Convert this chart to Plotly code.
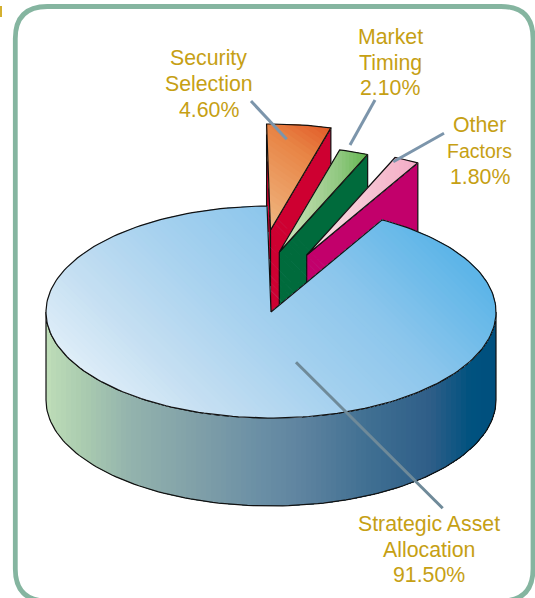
import math
import plotly.graph_objects as go

# ---- data ----
categories = ["Security Selection", "Market Timing", "Other Factors", "Strategic Asset Allocation"]
values = [4.60, 2.10, 1.80, 91.50]
value_labels = ["4.60%", "2.10%", "1.80%", "91.50%"]

# ---- geometry (pixels) ----
W, H = 535, 598
CX, CY, RX, RY = 271, 312, 225, 106
DEPTH = 88
START = -1.0
EXPLODE = [(-0.5, -82), (8.3, -60), (35.7, -57)]
FACE_H = [100, 75, 70]
OUTLINE = "#111111"

TOP_GRAD = [
    ([(-38, "#EFB680"), (60, "#E88445"), (100, "#E25E2A")], (0.7, -1.0)),
    ([(280, "#D2E5BF"), (340, "#8FC77F"), (368, "#62B64D")], (1.0, 0.0)),
    ([(307, "#F9E0E4"), (393, "#F5B8CC"), (419, "#F4AAC6")], (1.0, 0.0)),
]
FACE_COL = ["#CE0031", "#006B3C", "#C2006B"]
BLUE_GRAD = [(-320, "#E6F2FA"), (-200, "#C5DFF2"), (-80, "#A8D2EF"), (60, "#8CC6EC"), (200, "#5DB5E8"), (240, "#5DB5E8")]
SIDE_GRAD = [(46, "#BEDDB8"), (80, "#ACCDB0"), (130, "#93B3AD"), (200, "#7F9FA8"), (260, "#6A8FA5"),
             (300, "#5F84A0"), (370, "#3F6F92"), (430, "#2F5E88"), (470, "#00527F"), (496, "#004F7E")]


def rgb(h):
    return tuple(int(h[i:i + 2], 16) for i in (1, 3, 5))


def grad_color(stops, t):
    if t <= stops[0][0]:
        return stops[0][1]
    for (a, ca), (b, cb) in zip(stops, stops[1:]):
        if t <= b:
            f = (t - a) / (b - a)
            c = [round(p + (q - p) * f) for p, q in zip(rgb(ca), rgb(cb))]
            return "rgb(%d,%d,%d)" % tuple(c)
    return stops[-1][1]


def clip(poly, d, t0):
    """Keep the part of poly where d.p >= t0."""
    out = []
    n = len(poly)
    for i in range(n):
        p, q = poly[i], poly[(i + 1) % n]
        tp = d[0] * p[0] + d[1] * p[1] - t0
        tq = d[0] * q[0] + d[1] * q[1] - t0
        if tp >= 0:
            out.append(p)
        if (tp >= 0) != (tq >= 0):
            f = tp / (tp - tq)
            out.append((p[0] + (q[0] - p[0]) * f, p[1] + (q[1] - p[1]) * f))
    return out


def rim(theta, dx=0, dy=0):
    a = math.radians(theta)
    return (CX + dx + RX * math.sin(a), CY + dy - RY * math.cos(a))


def arc(a, b, dx=0, dy=0, n=None):
    n = n or max(4, int(abs(b - a) / 1.5))
    return [rim(a + (b - a) * i / n, dx, dy) for i in range(n + 1)]


fig = go.Figure()


def add_poly(poly, fill=None, line=None, width=1.2):
    xs = [p[0] for p in poly] + [poly[0][0]]
    ys = [p[1] for p in poly] + [poly[0][1]]
    fig.add_trace(go.Scatter(
        x=xs, y=ys, mode="lines", hoverinfo="skip", showlegend=False,
        fill="toself" if fill else None, fillcolor=fill,
        line=dict(color=line or "rgba(0,0,0,0)", width=width if line else 0),
    ))


def add_gradient(poly, stops, d, strips):
    ts = [d[0] * p[0] + d[1] * p[1] for p in poly]
    lo, hi = min(ts), max(ts)
    add_poly(poly, fill=grad_color(stops, lo))
    for i in range(1, strips):
        t = lo + (hi - lo) * i / strips
        part = clip(poly, d, t)
        if len(part) >= 3:
            add_poly(part, fill=grad_color(stops, t + (hi - lo) / strips / 2))
    add_poly(poly, line=OUTLINE)


# ---- slice angles come from the values ----
angles = [START]
for v in values:
    angles.append(angles[-1] + v * 3.6)

# ---- lifted small wedges ----
for i in range(3):
    dx, dy = EXPLODE[i]
    a0, a1 = angles[i], angles[i + 1]
    apex = (CX + dx, CY + dy)
    h = FACE_H[i]
    if i == 0:
        r0 = rim(a0, dx, dy)
        add_poly([r0, apex, (apex[0] + 1, apex[1] + h), (r0[0], r0[1] + h)], fill=FACE_COL[i], line=OUTLINE)
    r1 = rim(a1, dx, dy)
    add_poly([apex, r1, (r1[0], r1[1] + h), (apex[0], apex[1] + h)], fill=FACE_COL[i], line=OUTLINE)
    stops, d = TOP_GRAD[i]
    add_gradient([apex] + arc(a0, a1, dx, dy), stops, d, 24)

# ---- main slice: wall, then top ----
wall = arc(90, 270, n=120) + arc(270, 90, 0, DEPTH, n=120)
add_gradient(wall, SIDE_GRAD, (1.0, 0.0), 90)
top = [(CX, CY)] + arc(angles[3], angles[4], n=220)
add_gradient(top, BLUE_GRAD, (1.0, -1.0), 70)

# ---- leader lines ----
leaders = [((251, 101), (286.7, 139.3), "#7C95AB"),
           ((375, 100), (350, 145), "#7C95AB"),
           ((444, 133.3), (393.3, 161.7), "#7C95AB"),
           ((296, 362.3), (442.7, 508.3), "#6F8A99")]
for a, b, c in leaders:
    fig.add_trace(go.Scatter(x=[a[0], b[0]], y=[a[1], b[1]], mode="lines", hoverinfo="skip",
                             showlegend=False, line=dict(color=c, width=3)))

# ---- labels, one annotation per text line ----
def label(x, lines, ys, sizes=None):
    for j, (t, y) in enumerate(zip(lines, ys)):
        fig.add_annotation(x=x, y=y, text=t, showarrow=False, xanchor="center", yanchor="middle",
                           font=dict(family="Liberation Sans, Arial, sans-serif", color="#C6A014",
                                     size=sizes[j] if sizes else 21.3))


label(208.5, ["Security", "Selection", value_labels[0]], [58, 84, 110])
label(390, ["Market", "Timing", value_labels[1]], [37, 62.5, 88])
label(479.5, ["Other", "Factors", value_labels[2]], [125, 151, 177], sizes=[21.3, 19.5, 21.3])
label(428.7, ["Strategic Asset", "Allocation", value_labels[3]], [524, 549.5, 575])

# ---- frame ----
L, T, R, B, r = 15.3, 6.5, 533, 601, 32
frame = (f"M {L + r} {T} L {R - r} {T} Q {R} {T} {R} {T + r} L {R} {B - r} Q {R} {B} {R - r} {B} "
         f"L {L + r} {B} Q {L} {B} {L} {B - r} L {L} {T + r} Q {L} {T} {L + r} {T} Z")
shapes = [
    dict(type="path", path=frame, xref="x", yref="y", line=dict(color="#85B5A0", width=4.8), layer="below"),
    dict(type="rect", x0=0, x1=2, y0=6, y1=17, xref="x", yref="y", fillcolor="#D4B030", line=dict(width=0), layer="below"),
]

fig.update_layout(
    width=W, height=H, margin=dict(l=0, r=0, t=0, b=0, pad=0), autosize=False,
    paper_bgcolor="white", plot_bgcolor="white", showlegend=False, shapes=shapes,
    xaxis=dict(range=[0, W], visible=False, fixedrange=True),
    yaxis=dict(range=[H, 0], visible=False, fixedrange=True),
)

fig.write_html("out.html", config={"displayModeBar": False},
               post_script="document.body.style.margin='0';document.body.style.overflow='hidden';")
